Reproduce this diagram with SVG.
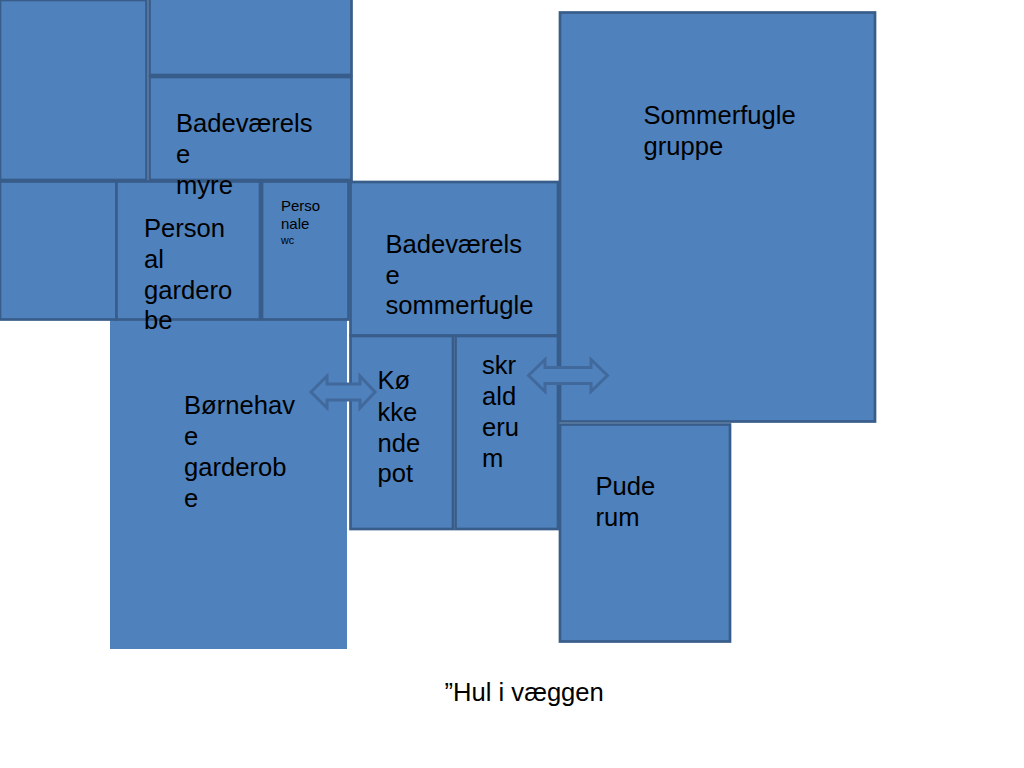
<svg xmlns="http://www.w3.org/2000/svg" width="1024" height="768" viewBox="0 0 1024 768">
<style>
.r{fill:#4f81bd;stroke:#385d8a;stroke-width:2.700}
.a{fill:#4f81bd;stroke:#41699c;stroke-width:3}
text{font-family:"Liberation Sans",Arial,sans-serif;fill:#000;font-size:25.600px}
</style>
<rect width="1024" height="768" fill="#fff"/>
<g id="room-bornehave"><rect x="110" y="320" width="237" height="329" fill="#4f81bd"/>
<text x="184" y="414">Børnehav</text><text x="184" y="445">e</text><text x="184" y="476">garderob</text><text x="184" y="507">e</text></g>
<g id="room-top-left"><rect class="r" x="0" y="0" width="146.500" height="180"/></g>
<g id="room-top-right"><rect class="r" x="149.500" y="-2" width="202" height="77"/></g>
<g id="room-badevaerelse-myre"><rect class="r" x="149.500" y="77" width="202" height="103"/></g>
<g id="room-left"><rect class="r" x="0" y="181.500" width="116.500" height="138"/></g>
<g id="room-personal-garderobe"><rect class="r" x="116.500" y="181.500" width="143.500" height="138"/></g>
<g id="room-personale-wc"><rect class="r" x="262" y="181.500" width="86.500" height="138"/></g>
<g id="room-badevaerelse-sommerfugle"><rect class="r" x="350.500" y="182" width="207.500" height="153.500"/></g>
<g id="room-kokkenpot"><rect class="r" x="350.500" y="336" width="102.500" height="193"/></g>
<g id="room-skralderum"><rect class="r" x="455.500" y="336" width="102.500" height="193"/></g>
<g id="room-sommerfugle"><rect class="r" x="560" y="12.500" width="315" height="409"/></g>
<g id="room-puderum"><rect class="r" x="560" y="424.500" width="170" height="217"/></g>
<g id="connectors">
<polygon class="a" points="311,392 327,376 327,384 360,384 360,376 375,392 360,408 360,400 327,400 327,408"/>
<polygon class="a" points="528.500,375.500 545,359.500 545,367.500 591,367.500 591,359.500 607.500,375.500 591,391.500 591,383.500 545,383.500 545,391.500"/>
</g>
<g id="labels">
<text x="176" y="132">Badeværels</text><text x="176" y="163">e</text><text x="176" y="194">myre</text>
<text x="144" y="237">Person</text><text x="144" y="268">al</text><text x="144" y="299">gardero</text><text x="144" y="329">be</text>
<text x="281" y="211" style="font-size:15px">Perso</text><text x="281" y="229" style="font-size:15px">nale</text><text x="281" y="244" style="font-size:10.700px">wc</text>
<text x="385.500" y="253">Badeværels</text><text x="385.500" y="284">e</text><text x="385.500" y="314">sommerfugle</text>
<text x="377.500" y="389">Kø</text><text x="377.500" y="421">kke</text><text x="377.500" y="452">nde</text><text x="377.500" y="482">pot</text>
<text x="482" y="374">skr</text><text x="482" y="405">ald</text><text x="482" y="436">eru</text><text x="482" y="467">m</text>
<text x="643.500" y="124">Sommerfugle</text><text x="643.500" y="155">gruppe</text>
<text x="595.500" y="495">Pude</text><text x="595.500" y="526">rum</text>
<text x="444.500" y="701">”Hul i væggen</text>
</g>
</svg>
